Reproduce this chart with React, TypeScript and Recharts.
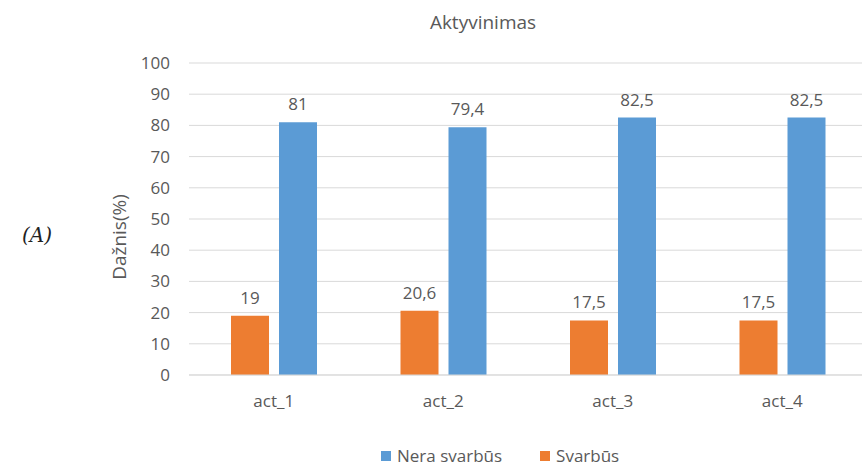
import React from "react";
import { BarChart, Bar, XAxis, YAxis, CartesianGrid, Legend, LabelList } from "recharts";

const categories = ["act_1", "act_2", "act_3", "act_4"];
const svarbus = [19, 20.6, 17.5, 17.5];
const neraSvarbus = [81, 79.4, 82.5, 82.5];
const yTicks = [0, 10, 20, 30, 40, 50, 60, 70, 80, 90, 100];

const data = categories.map((c, i) => ({ name: c, svarbus: svarbus[i], nera: neraSvarbus[i] }));

const FONT = "'Open Sans', sans-serif";
const TXT = "#595959";
const BLUE = "#5B9BD5";
const ORANGE = "#ED7D31";

const fmt = (v: any) => String(v).replace(".", ",");

const LegendContent = () => (
  <div style={{ height: 18, paddingTop: 8, paddingBottom: 2, display: "flex", alignItems: "center", paddingLeft: 381, fontFamily: FONT, fontSize: 17, lineHeight: "18px", color: TXT }}>
    <span style={{ width: 10, height: 10, background: BLUE, display: "inline-block", marginRight: 6 }} />
    <span style={{ marginRight: 38 }}>Nera svarbūs</span>
    <span style={{ width: 10, height: 10, background: ORANGE, display: "inline-block", marginRight: 6 }} />
    <span>Svarbūs</span>
  </div>
);

export default function App() {
  return (
    <div style={{ position: "absolute", left: 0, top: 0, width: 862, height: 467, overflow: "hidden", background: "#fff" }}>
      <BarChart
        width={870}
        height={467}
        data={data}
        margin={{ top: 63, right: 3, left: 0, bottom: 0 }}
        barCategoryGap={42}
        barGap={10}
      >
        <CartesianGrid vertical={false} stroke="#D9D9D9" strokeWidth={1} />
        <XAxis
          dataKey="name"
          axisLine={{ stroke: "#D9D9D9" }}
          tickLine={false}
          tickSize={0}
          tickMargin={20}
          height={64}
          tick={{ fill: TXT, fontFamily: FONT, fontSize: 17 }}
        />
        <YAxis
          width={189}
          domain={[0, 100]}
          ticks={yTicks}
          interval={0}
          axisLine={false}
          tickLine={false}
          tickSize={0}
          tickMargin={19}
          tick={{ fill: TXT, fontFamily: FONT, fontSize: 17 }}
        />
        <Legend verticalAlign="bottom" content={<LegendContent />} wrapperStyle={{ left: 0, width: 870 }} />
        <Bar dataKey="svarbus" name="Svarbūs" fill={ORANGE} barSize={38} isAnimationActive={false}>
          <LabelList dataKey="svarbus" position="top" offset={12} formatter={fmt} fill={TXT} fontFamily={FONT} fontSize={17} />
        </Bar>
        <Bar dataKey="nera" name="Nera svarbūs" fill={BLUE} barSize={38} isAnimationActive={false}>
          <LabelList dataKey="nera" position="top" offset={12} formatter={fmt} fill={TXT} fontFamily={FONT} fontSize={17} />
        </Bar>
        <text x={483} y={29} textAnchor="middle" fill={TXT} fontFamily={FONT} fontSize={19}>Aktyvinimas</text>
        <text x={126} y={237} textAnchor="middle" fill={TXT} fontFamily={FONT} fontSize={19} transform="rotate(-90 126 237)">Dažnis(%)</text>
      </BarChart>
      <div style={{ position: "absolute", left: 22, top: 223, fontFamily: "'DejaVu Serif', serif", fontStyle: "italic", fontSize: 20, color: "#222" }}>(A)</div>
    </div>
  );
}
